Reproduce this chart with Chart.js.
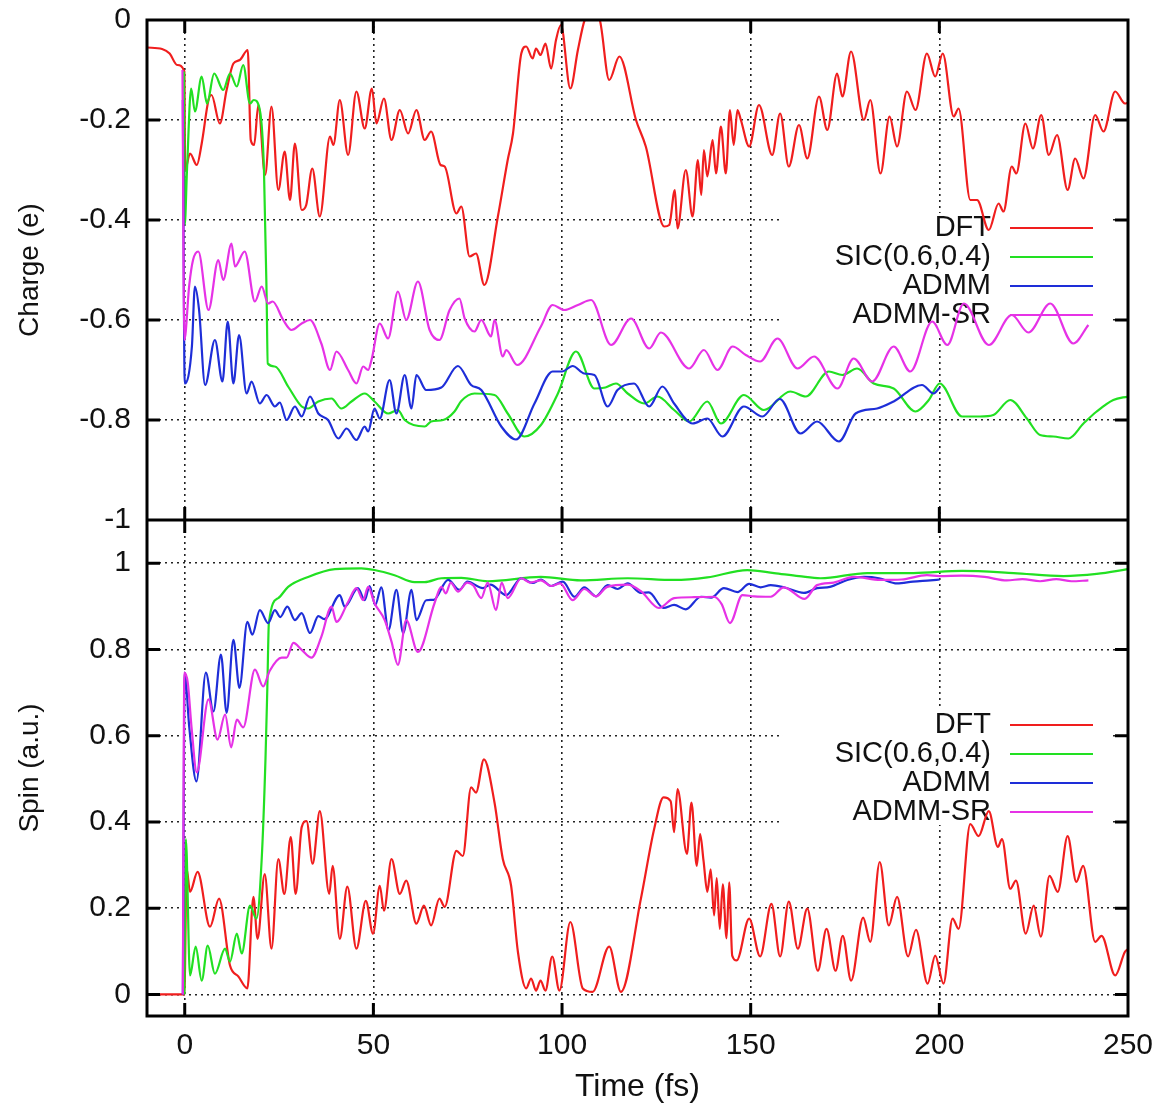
<!DOCTYPE html>
<html>
<head>
<meta charset="utf-8">
<script src="https://cdn.jsdelivr.net/npm/chart.js@4.4.1/dist/chart.umd.min.js"></script>
<style>
  html, body { margin: 0; padding: 0; background: #fff; }
</style>
</head>
<body>
<canvas id="mycanvas" width="1159" height="1106"></canvas>
<script>
// axis ticks and series names
var timeTicks = [0, 50, 100, 150, 200, 250];
var chargeTicks = [0, -0.2, -0.4, -0.6, -0.8, -1];
var spinTicks = [0, 0.2, 0.4, 0.6, 0.8, 1];
var seriesNames = ['DFT', 'SIC(0.6,0.4)', 'ADMM', 'ADMM-SR'];

// [time (fs), value]
var chargeDft = [[-10,-0.055],[-6,-0.058],[-4,-0.067],[-2,-0.09],[-0.1,-0.103],[0.1,-0.30],[1.4,-0.267],[3.2,-0.29],[4.5,-0.247],[6.3,-0.16],[7.1,-0.15],[9.3,-0.207],[11.1,-0.14],[12.9,-0.087],[14.6,-0.08],[16.7,-0.06],[17.5,-0.24],[18.4,-0.25],[19.5,-0.17],[21.3,-0.31],[23,-0.173],[24.8,-0.34],[26.5,-0.263],[27.9,-0.36],[29.2,-0.247],[31,-0.38],[32.2,-0.37],[33.8,-0.297],[35.8,-0.393],[38.5,-0.233],[39.4,-0.25],[41.1,-0.16],[43.3,-0.27],[45.5,-0.143],[47.7,-0.217],[49.6,-0.137],[50.8,-0.207],[52.8,-0.157],[54.8,-0.24],[57,-0.18],[59.2,-0.227],[61.4,-0.18],[63.6,-0.24],[65.3,-0.223],[67.8,-0.29],[68.9,-0.293],[72,-0.387],[73.3,-0.373],[75.5,-0.473],[77.2,-0.467],[79.4,-0.53],[83,-0.393],[85.6,-0.28],[87,-0.227],[89.2,-0.067],[90.5,-0.053],[92.2,-0.077],[93.1,-0.057],[94.3,-0.07],[95.6,-0.047],[97.1,-0.097],[98.4,-0.04],[99.7,-0.01],[102.2,-0.137],[104.2,-0.06],[106,0.0],[108,0.015],[110,0.0],[112.5,-0.12],[115.2,-0.073],[119.6,-0.2],[122.2,-0.253],[127.1,-0.413],[128.4,-0.41],[129.9,-0.34],[130.6,-0.417],[132.8,-0.30],[134.6,-0.393],[136,-0.28],[136.9,-0.35],[137.6,-0.26],[138.5,-0.313],[139.9,-0.24],[140.8,-0.307],[142.1,-0.213],[143.4,-0.307],[144.5,-0.18],[145.5,-0.25],[146.5,-0.18],[147.4,-0.2],[149.6,-0.253],[152.2,-0.17],[155.7,-0.27],[157.8,-0.187],[160.1,-0.293],[162.8,-0.21],[165,-0.277],[168.1,-0.153],[170.3,-0.22],[172.9,-0.107],[174.3,-0.153],[176.6,-0.063],[180,-0.2],[181.7,-0.16],[184.4,-0.307],[186.8,-0.193],[188.8,-0.253],[191.4,-0.143],[193.7,-0.18],[196.7,-0.067],[198.9,-0.113],[200.9,-0.067],[203.8,-0.193],[205.1,-0.177],[208.2,-0.36],[210,-0.36],[213.1,-0.42],[215.7,-0.367],[217,-0.383],[219.2,-0.293],[220.4,-0.307],[222.8,-0.207],[224.8,-0.257],[227,-0.19],[229,-0.27],[231.2,-0.23],[234,-0.34],[236,-0.277],[238.2,-0.317],[241.3,-0.19],[243.5,-0.223],[246.6,-0.143],[249.2,-0.167],[250,-0.165]];

var chargeSic = [[-0.2,-0.103],[0,-0.41],[0.6,-0.3],[1.7,-0.137],[2.7,-0.183],[4.5,-0.113],[5.9,-0.167],[7.8,-0.107],[10.2,-0.14],[12,-0.107],[13.8,-0.133],[15.5,-0.09],[17.3,-0.167],[18.3,-0.16],[19.9,-0.18],[21,-0.3],[21.7,-0.55],[22,-0.687],[23.9,-0.693],[27.4,-0.733],[31,-0.773],[32.7,-0.777],[35.4,-0.763],[38.9,-0.757],[41.5,-0.777],[44.2,-0.763],[47.7,-0.747],[50.3,-0.763],[53.9,-0.787],[56.5,-0.78],[58.3,-0.8],[63.6,-0.813],[65.3,-0.803],[68.5,-0.8],[71.5,-0.783],[73.3,-0.762],[76.8,-0.747],[82.1,-0.75],[85.6,-0.787],[90,-0.833],[94.4,-0.81],[98.9,-0.747],[103.7,-0.663],[108.6,-0.737],[111.5,-0.735],[114.3,-0.727],[117.4,-0.747],[121.8,-0.767],[125.3,-0.753],[129.7,-0.78],[133.7,-0.803],[138.5,-0.763],[142.1,-0.807],[148.2,-0.75],[153.5,-0.78],[160.5,-0.743],[164.6,-0.753],[170.7,-0.703],[174.3,-0.71],[178.2,-0.697],[182.6,-0.727],[187.9,-0.737],[193.7,-0.783],[197.2,-0.76],[200.1,-0.727],[206,-0.793],[210.8,-0.793],[214.3,-0.79],[218.8,-0.76],[223.2,-0.797],[226.7,-0.83],[230.2,-0.833],[234.2,-0.837],[238.2,-0.807],[241.7,-0.783],[246.1,-0.76],[250,-0.753]];

var chargeAdmm = [[-0.5,-0.16],[0,-0.727],[1.9,-0.653],[2.7,-0.533],[3.8,-0.58],[5.4,-0.73],[8,-0.64],[10,-0.723],[11.4,-0.603],[12.9,-0.727],[14.4,-0.63],[16.4,-0.747],[17.7,-0.723],[19.9,-0.767],[21.7,-0.75],[23.9,-0.773],[25.2,-0.765],[27,-0.8],[29.2,-0.773],[31,-0.793],[33.2,-0.753],[35.4,-0.787],[38,-0.8],[40.7,-0.837],[42.9,-0.817],[45.5,-0.84],[47.7,-0.813],[48.6,-0.823],[50.3,-0.777],[51.7,-0.797],[54.3,-0.72],[56.1,-0.787],[58.3,-0.71],[60.1,-0.777],[61.4,-0.71],[64,-0.74],[68,-0.735],[72.4,-0.692],[75.9,-0.73],[78.6,-0.74],[83.9,-0.813],[87.8,-0.839],[92.7,-0.767],[97.5,-0.703],[100,-0.703],[102.8,-0.692],[105.9,-0.707],[108.6,-0.71],[112.1,-0.773],[114.7,-0.74],[119.1,-0.727],[123.1,-0.773],[126.6,-0.733],[129.7,-0.767],[134.6,-0.807],[138.5,-0.797],[142.5,-0.833],[148.2,-0.773],[153.1,-0.793],[157.7,-0.758],[163.2,-0.827],[167.6,-0.803],[173.4,-0.843],[177.8,-0.787],[183.5,-0.777],[187.9,-0.763],[195.4,-0.73],[198.5,-0.747],[200.1,-0.735]];

var chargeAdmmSr = [[-0.6,-0.1],[-0.1,-0.64],[1.2,-0.53],[2.2,-0.48],[3.6,-0.463],[6.3,-0.58],[8.9,-0.48],[10.2,-0.52],[12.4,-0.447],[13.3,-0.493],[15.9,-0.463],[18.6,-0.563],[20.4,-0.533],[22.1,-0.567],[23.3,-0.563],[26.1,-0.6],[28.3,-0.62],[31,-0.607],[33.2,-0.6],[36.2,-0.647],[38.5,-0.7],[40.2,-0.663],[43.3,-0.7],[45.5,-0.727],[47.3,-0.693],[48.6,-0.7],[49.5,-0.68],[51.7,-0.607],[53.9,-0.637],[56.5,-0.543],[58.7,-0.6],[61.8,-0.523],[64.9,-0.62],[67.5,-0.64],[70.2,-0.58],[72.8,-0.557],[74.2,-0.597],[76.8,-0.623],[78.6,-0.6],[81.2,-0.633],[82.1,-0.6],[84.3,-0.673],[85.2,-0.66],[88.1,-0.69],[94.4,-0.613],[97.5,-0.57],[100.6,-0.58],[104.2,-0.57],[107.7,-0.56],[113,-0.65],[118.3,-0.597],[123.1,-0.657],[126.2,-0.625],[133.7,-0.697],[137.6,-0.66],[141.2,-0.7],[145.2,-0.653],[148.7,-0.67],[152.5,-0.683],[157.1,-0.637],[162.4,-0.697],[166.8,-0.673],[173,-0.737],[177.3,-0.677],[182.2,-0.723],[187.9,-0.653],[192.3,-0.703],[198.1,-0.603],[202.1,-0.65],[206.5,-0.567],[213.1,-0.65],[219.2,-0.59],[223.6,-0.625],[229.4,-0.567],[235.5,-0.647],[239.5,-0.61]];

var spinDft = [[-10,0],[-0.1,0],[0.5,0.291],[1.4,0.238],[3.4,0.284],[6.7,0.157],[9.1,0.222],[12,0.067],[14.2,0.042],[16.6,0.014],[18.2,0.226],[19.3,0.129],[21.2,0.279],[23,0.106],[24.8,0.314],[26.4,0.233],[28.1,0.365],[29.4,0.233],[31,0.388],[32.3,0.402],[33.9,0.303],[35.8,0.425],[38.3,0.233],[39.2,0.298],[41.1,0.129],[43.1,0.25],[45.5,0.106],[48,0.217],[49.9,0.141],[51.7,0.252],[52.8,0.194],[54.8,0.314],[57,0.233],[58.7,0.264],[61.4,0.164],[63.4,0.206],[65.3,0.16],[67.5,0.222],[68.9,0.203],[72,0.333],[73.7,0.321],[75.9,0.48],[77.2,0.468],[79.3,0.545],[82.1,0.445],[84.3,0.314],[86.5,0.252],[88.3,0.099],[90.5,0.014],[91.8,0.037],[93.1,0.009],[94.3,0.032],[95.6,0.009],[97.4,0.088],[99.3,0.009],[102.2,0.168],[105.5,0.014],[108.1,0.006],[112.5,0.111],[115.6,0.006],[120.9,0.222],[124.4,0.383],[126.9,0.457],[128.8,0.448],[129.7,0.376],[130.6,0.476],[133.1,0.326],[134.3,0.445],[135.7,0.298],[136.6,0.372],[137.5,0.31],[138.5,0.238],[139.4,0.29],[140.3,0.183],[141,0.27],[141.8,0.152],[142.6,0.255],[143.6,0.13],[144.3,0.26],[145.1,0.09],[146.3,0.079],[149.6,0.176],[152.5,0.088],[155.5,0.21],[157.8,0.088],[160.1,0.215],[162.5,0.106],[165,0.199],[167.8,0.055],[170.1,0.152],[172.5,0.055],[174.4,0.136],[176.6,0.032],[179.8,0.178],[181.7,0.122],[184.2,0.307],[186.6,0.16],[188.8,0.226],[191.7,0.088],[193.8,0.15],[196.9,0.025],[198.9,0.09],[201.1,0.025],[203.5,0.176],[205.1,0.152],[208.2,0.395],[210.4,0.367],[213.1,0.425],[215.5,0.342],[216.6,0.36],[218.8,0.245],[220.3,0.264],[222.9,0.141],[225,0.206],[226.9,0.134],[229.2,0.275],[231.4,0.238],[234,0.367],[236.3,0.261],[238.1,0.298],[241.3,0.122],[243,0.136],[246.6,0.044],[249.2,0.099],[250,0.105]];

var spinSic = [[-0.1,0],[0.3,0.36],[1.4,0.044],[2.9,0.111],[4.5,0.032],[6.1,0.113],[8,0.048],[10.7,0.106],[12,0.076],[13.8,0.141],[15.1,0.095],[17.3,0.206],[19,0.176],[20.4,0.314],[21.4,0.545],[21.9,0.714],[22.3,0.861],[24.8,0.919],[27.4,0.945],[32.7,0.968],[39.8,0.986],[46.8,0.988],[50.3,0.984],[55.6,0.972],[60.9,0.956],[63.6,0.956],[68,0.965],[73.3,0.966],[80.3,0.958],[94.4,0.968],[105,0.96],[117.4,0.965],[129.7,0.961],[138.5,0.967],[149.1,0.984],[156.2,0.977],[162.8,0.97],[168.5,0.965],[180.9,0.977],[193.2,0.977],[206,0.982],[219.7,0.977],[232.9,0.97],[241.7,0.975],[250,0.986]];

var spinAdmm = [[-0.5,0],[0,0.746],[1.2,0.62],[3.1,0.494],[5.6,0.746],[7.6,0.656],[9.6,0.788],[11.1,0.653],[12.9,0.822],[14.5,0.711],[16.6,0.864],[17.9,0.834],[19.9,0.891],[22.1,0.861],[23.9,0.891],[25.3,0.875],[27.2,0.899],[29.2,0.868],[31,0.884],[33.2,0.838],[35.4,0.877],[37,0.87],[41.1,0.926],[42.4,0.899],[45.9,0.942],[47.7,0.914],[49,0.947],[50.5,0.903],[52.1,0.944],[54,0.845],[56.1,0.938],[57.9,0.838],[60.1,0.938],[61.4,0.868],[64,0.914],[66,0.915],[69.8,0.961],[72.8,0.938],[74.9,0.957],[79,0.942],[81,0.95],[85.2,0.926],[89.2,0.965],[92.2,0.954],[94.4,0.962],[97.1,0.947],[100.2,0.957],[103.3,0.922],[105.9,0.944],[109,0.923],[112.1,0.949],[114.7,0.94],[117.4,0.953],[120.9,0.931],[123,0.932],[126.9,0.896],[129.7,0.903],[132.8,0.893],[136.8,0.922],[139.5,0.92],[142.9,0.942],[146.5,0.933],[149.6,0.952],[152.6,0.944],[155.3,0.949],[158.8,0.944],[164.1,0.931],[167.6,0.942],[171,0.945],[175.6,0.961],[180,0.968],[184,0.965],[188.8,0.953],[193,0.957],[197.6,0.96],[200.1,0.962]];

var spinAdmmSr = [[-0.5,0],[-0.1,0.746],[0.8,0.723],[1.8,0.62],[3.2,0.515],[6.3,0.684],[8.7,0.591],[10.7,0.649],[12.3,0.573],[13.8,0.637],[15.5,0.619],[18.6,0.753],[20.8,0.714],[22.5,0.75],[25.7,0.781],[27,0.781],[28.8,0.815],[31,0.799],[33.6,0.781],[36.2,0.829],[38.9,0.899],[40.2,0.864],[43.3,0.91],[45.5,0.942],[47.3,0.914],[48.6,0.945],[50.3,0.907],[53,0.868],[54.8,0.818],[56.5,0.764],[58.7,0.868],[61.8,0.794],[66.2,0.907],[68,0.945],[69.2,0.93],[70.5,0.955],[72.4,0.934],[74.9,0.955],[76.5,0.948],[78.6,0.919],[80.3,0.955],[82.5,0.891],[84,0.955],[85.6,0.919],[89.2,0.965],[91.5,0.955],[94.4,0.96],[97.1,0.947],[99.5,0.953],[102.8,0.914],[105.9,0.94],[109,0.923],[112,0.945],[117.4,0.95],[120.9,0.935],[125.7,0.896],[129.7,0.919],[135,0.921],[140.3,0.922],[142.3,0.905],[144.5,0.861],[147.8,0.926],[150.9,0.923],[155.3,0.922],[158.8,0.944],[164.3,0.917],[167.6,0.949],[172,0.955],[177.3,0.968],[184.4,0.961],[190,0.962],[196.7,0.972],[200,0.97],[206,0.971],[212,0.968],[217.9,0.96],[222,0.963],[226.7,0.958],[231,0.963],[235,0.958],[239.5,0.96]];

var lineColors = ['#f01e1e', '#22e022', '#1e2ed8', '#e632e6'];
var fontFamily = '"Liberation Sans", Arial, Helvetica, sans-serif';

function toPoints(rows) {
  return rows.map(function (r) { return { x: r[0], y: r[1] }; });
}

function makeLine(k, rows, axis) {
  return {
    label: seriesNames[k],
    data: toPoints(rows),
    borderColor: lineColors[k],
    borderWidth: 2.2,
    pointRadius: 0,
    fill: false,
    cubicInterpolationMode: 'monotone',
    yAxisID: axis,
    order: 4 - k
  };
}

function fixedTicks(list) {
  return function (scale) {
    scale.ticks = list.map(function (v) { return { value: v }; });
  };
}

function tickText(v) {
  return String(Math.round(v * 10) / 10);
}

// fixed axis sizes, and no extra room for overhanging labels
function fitY(s) {
  s.width = 147;
  s.paddingTop = 0;
  s.paddingBottom = 0;
}
function fitX(s) {
  s.height = 90;
  s.paddingLeft = 0;
  s.paddingRight = 0;
}

var gridOpts = { color: '#222', lineWidth: 1.6, drawTicks: false };
var borderOpts = { display: false, dash: [2, 4] };
var tickFont = { family: fontFamily, size: 30 };
var xTitleFont = { family: fontFamily, size: 32 };
var yTitleFont = { family: fontFamily, size: 28 };

// gnuplot-like frame, inner tick marks and opaque key
var panelPlugin = {
  id: 'panels',
  beforeDatasetsDraw: function (chart) {
    var ctx = chart.ctx, a = chart.chartArea;
    var keys = [
      { id: 'yC', boxTop: 193, boxH: 120, row0: 208 },
      { id: 'yS', boxTop: 190, boxH: 115, row0: 205 }
    ];
    ctx.save();
    keys.forEach(function (k) {
      var s = chart.scales[k.id];
      ctx.fillStyle = '#fff';
      ctx.fillRect(a.right - 345, s.top + k.boxTop, 330, k.boxH);
      ctx.font = '29px ' + fontFamily;
      ctx.textAlign = 'right';
      ctx.textBaseline = 'middle';
      var n = 0;
      chart.data.datasets.forEach(function (ds) {
        if (ds.yAxisID !== k.id) return;
        var y = s.top + k.row0 + n * 29;
        ctx.fillStyle = '#111';
        ctx.fillText(ds.label, a.right - 137, y);
        ctx.strokeStyle = ds.borderColor;
        ctx.lineWidth = 2;
        ctx.beginPath();
        ctx.moveTo(a.right - 118, y);
        ctx.lineTo(a.right - 35, y);
        ctx.stroke();
        n++;
      });
    });
    ctx.restore();
  },
  afterDatasetsDraw: function (chart) {
    var ctx = chart.ctx, a = chart.chartArea;
    var x = chart.scales.x, yC = chart.scales.yC, yS = chart.scales.yS;
    var len = 13;
    ctx.save();
    ctx.strokeStyle = '#000';
    ctx.lineWidth = 3;
    ctx.strokeRect(a.left, a.top, a.right - a.left, a.bottom - a.top);
    ctx.beginPath();
    ctx.moveTo(a.left, yS.top);
    ctx.lineTo(a.right, yS.top);
    [yC, yS].forEach(function (s) {
      s.ticks.forEach(function (t) {
        var py = s.getPixelForValue(t.value);
        if (py <= s.top + 1 || py >= s.bottom - 1) return;
        ctx.moveTo(a.left, py); ctx.lineTo(a.left + len, py);
        ctx.moveTo(a.right, py); ctx.lineTo(a.right - len, py);
      });
      x.ticks.forEach(function (t) {
        var px = x.getPixelForValue(t.value);
        if (px >= a.right - 1) return;
        ctx.moveTo(px, s.top); ctx.lineTo(px, s.top + len);
        ctx.moveTo(px, s.bottom); ctx.lineTo(px, s.bottom - len);
      });
    });
    ctx.stroke();
    ctx.restore();
  }
};

var ctx = document.getElementById('mycanvas').getContext('2d');
var chart = new Chart(ctx, {
  type: 'line',
  data: {
    datasets: [
      makeLine(0, chargeDft, 'yC'),
      makeLine(1, chargeSic, 'yC'),
      makeLine(2, chargeAdmm, 'yC'),
      makeLine(3, chargeAdmmSr, 'yC'),
      makeLine(0, spinDft, 'yS'),
      makeLine(1, spinSic, 'yS'),
      makeLine(2, spinAdmm, 'yS'),
      makeLine(3, spinAdmmSr, 'yS')
    ]
  },
  options: {
    responsive: false,
    animation: false,
    devicePixelRatio: 1,
    layout: { padding: { left: 0, right: 31, top: 20, bottom: 0 } },
    plugins: { legend: { display: false }, tooltip: { enabled: false } },
    scales: {
      x: {
        type: 'linear',
        min: -10,
        max: 250,
        afterBuildTicks: fixedTicks(timeTicks),
        afterFit: fitX,
        grid: gridOpts,
        border: borderOpts,
        ticks: { font: tickFont, color: '#111', padding: 12, maxRotation: 0 },
        title: { display: true, text: 'Time (fs)', font: xTitleFont, color: '#111', padding: { top: 0, bottom: 0 } }
      },
      yC: {
        type: 'linear',
        position: 'left',
        stack: 'panels',
        stackWeight: 500,
        weight: 2,
        min: -1,
        max: 0,
        afterBuildTicks: fixedTicks(chargeTicks),
        afterFit: fitY,
        grid: gridOpts,
        border: borderOpts,
        ticks: { font: tickFont, color: '#111', padding: 16, callback: tickText },
        title: { display: true, text: 'Charge (e)', font: yTitleFont, color: '#111', padding: { top: 13, bottom: 0 } }
      },
      yS: {
        type: 'linear',
        position: 'left',
        stack: 'panels',
        stackWeight: 496,
        weight: 1,
        min: -0.05,
        max: 1.1,
        afterBuildTicks: fixedTicks(spinTicks),
        afterFit: fitY,
        grid: gridOpts,
        border: borderOpts,
        ticks: { font: tickFont, color: '#111', padding: 16, callback: tickText },
        title: { display: true, text: 'Spin (a.u.)', font: yTitleFont, color: '#111', padding: { top: 13, bottom: 0 } }
      }
    }
  },
  plugins: [panelPlugin]
});
</script>
</body>
</html>
